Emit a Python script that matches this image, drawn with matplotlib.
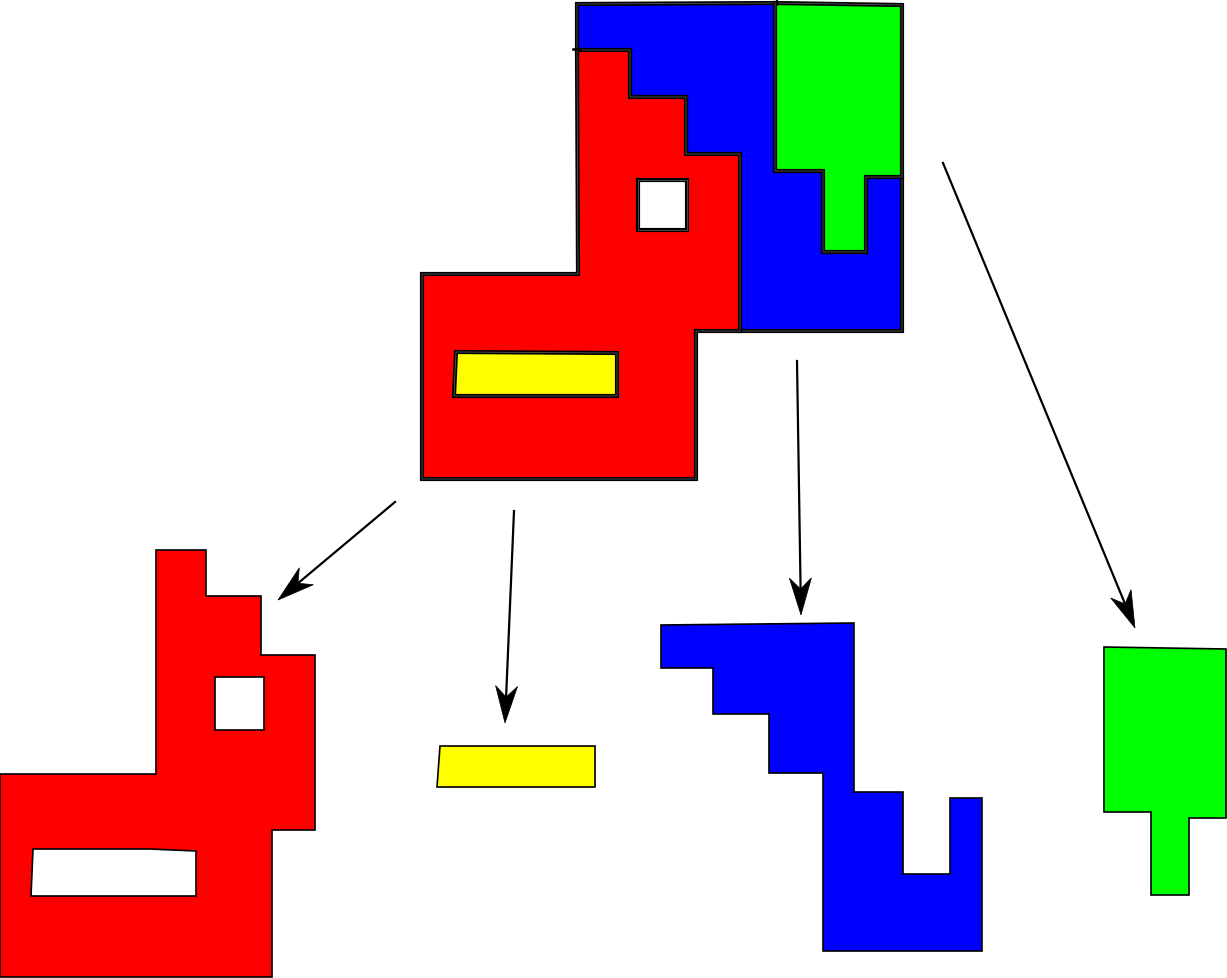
import matplotlib
matplotlib.use("Agg")
import matplotlib.pyplot as plt
from matplotlib.patches import Polygon
import numpy as np

# shapes, in picture pixels (x right, y down)
top_blue = [(577, 5), (775, 4), (775, 172), (823, 172), (823, 253), (866, 253),
            (866, 178), (902, 178), (902, 332), (740, 332), (740, 155), (686, 155),
            (686, 98), (630, 98), (630, 51), (577, 51)]
top_green = [(775, 4), (902, 6), (902, 178), (866, 178), (866, 253), (823, 253),
             (823, 172), (775, 172)]
top_red = [(577, 51), (630, 51), (630, 98), (686, 98), (686, 155), (740, 155),
           (740, 332), (696, 332), (696, 480), (422, 480), (422, 275), (578, 275)]
top_hole = [(638, 181), (687, 181), (687, 231), (638, 231)]
top_yellow = [(456, 353), (617, 354), (617, 397), (454, 397)]

bot_red = [(156, 551), (206, 551), (206, 597), (261, 597), (261, 656), (315, 656),
           (315, 831), (272, 831), (272, 978), (0, 978), (0, 775), (156, 775)]
bot_red_hole1 = [(215, 678), (264, 678), (264, 731), (215, 731)]
bot_red_hole2 = [(33, 850), (150, 850), (196, 852), (196, 897), (31, 897)]
bot_yellow = [(440, 747), (595, 747), (595, 788), (437, 788)]
bot_blue = [(661, 626), (854, 624), (854, 793), (903, 793), (903, 875), (950, 875),
            (950, 799), (982, 799), (982, 952), (823, 952), (823, 774), (769, 774),
            (769, 715), (713, 715), (713, 669), (661, 669)]
bot_green = [(1104, 648), (1226, 650), (1226, 819), (1189, 819), (1189, 896),
             (1151, 896), (1151, 813), (1104, 813)]

# arrows: start -> tip
arrows = [((395, 503), (278, 601)),
          ((514, 512), (505, 724)),
          ((797, 362), (801, 616)),
          ((943, 164), (1135, 629))]

fig = plt.figure(figsize=(12.27, 9.79), dpi=100)
ax = fig.add_axes([0, 0, 1, 1])
ax.set_xlim(0, 1227)
ax.set_ylim(979, 0)
ax.axis("off")


def double_outline(pts, color):
    ax.add_patch(Polygon(pts, closed=True, facecolor=color, edgecolor="black", lw=3.0, joinstyle="miter"))
    ax.add_patch(Polygon(pts, closed=True, facecolor="none", edgecolor="#555555", lw=0.6, joinstyle="miter"))


double_outline(top_blue, "#0000ff")
double_outline(top_green, "#00ff00")
double_outline(top_red, "#ff0000")
double_outline(top_hole, "white")
double_outline(top_yellow, "#ffff00")
# little stray strokes
ax.plot([777, 777], [0, 6], color="black", lw=1.5)
ax.plot([573, 580], [50, 50], color="black", lw=1.8)

for pts, col in [(bot_red, "#ff0000"), (bot_red_hole1, "white"), (bot_red_hole2, "white"),
                 (bot_yellow, "#ffff00"), (bot_blue, "#0000ff"), (bot_green, "#00ff00")]:
    ax.add_patch(Polygon(pts, closed=True, facecolor=col, edgecolor="black", lw=1.2, joinstyle="miter"))

for (x0, y0), (x1, y1) in arrows:
    d = np.array([x1 - x0, y1 - y0], dtype=float)
    d /= np.hypot(*d)
    n = np.array([-d[1], d[0]])
    tip = np.array([x1, y1], dtype=float)
    back = tip - 37 * d
    notch = tip - 26 * d
    ax.plot([x0, notch[0]], [y0, notch[1]], color="black", lw=1.6)
    head = [tip, back + 11 * n, notch, back - 11 * n]
    ax.add_patch(Polygon(head, closed=True, facecolor="black", edgecolor="black", lw=0.5))

fig.savefig("out.png", dpi=100)
